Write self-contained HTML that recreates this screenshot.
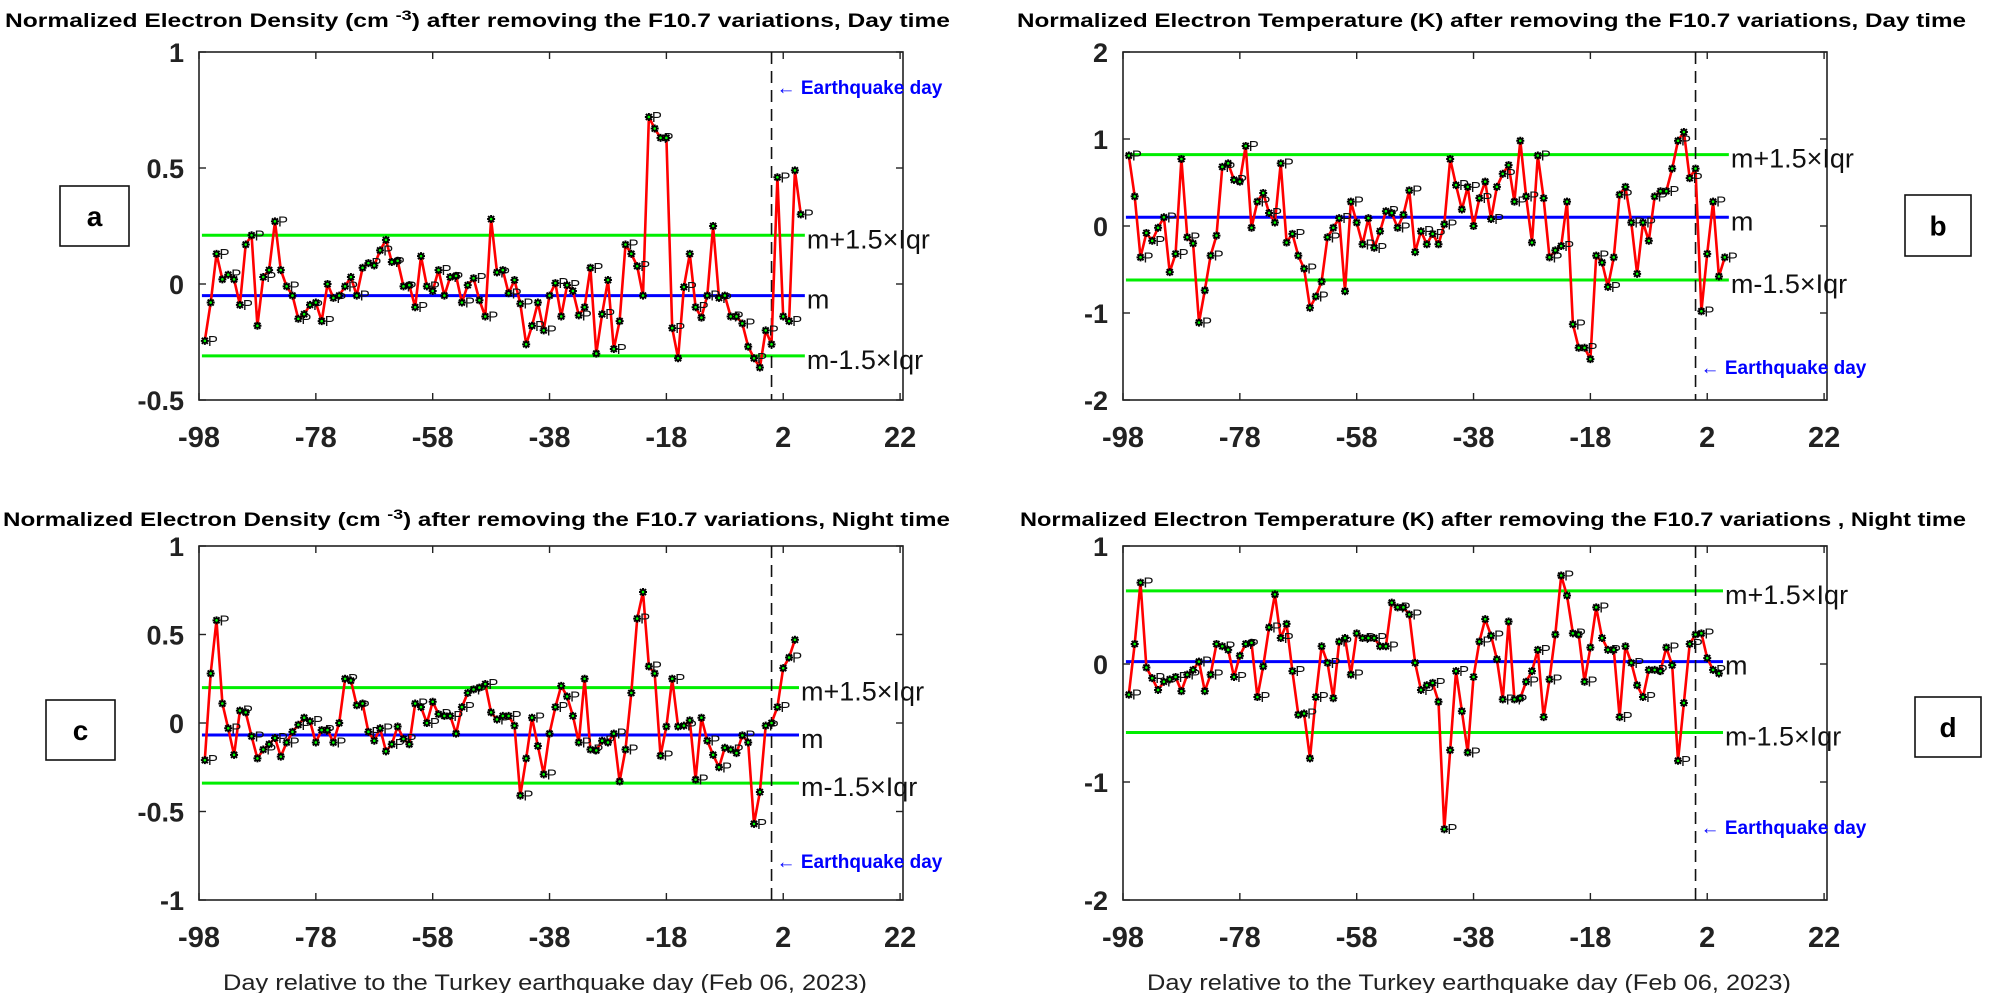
<!DOCTYPE html>
<html><head><meta charset="utf-8"><title>Normalized ionospheric parameters</title>
<style>html,body{margin:0;padding:0;background:#fff}svg{display:block}</style></head>
<body>
<svg id="fig" xmlns="http://www.w3.org/2000/svg" width="2001" height="993" viewBox="0 0 2001 993" font-family="'Liberation Sans', Arial, sans-serif"></svg>
<script>
// ---------- data ----------
const dayStart = -97;
const xTicks = [-98, -78, -58, -38, -18, 2, 22];
const yTicksA = [1, 0.5, 0, -0.5];
const yTicksB = [2, 1, 0, -1, -2];
const yTicksC = [1, 0.5, 0, -0.5, -1];
const yTicksD = [1, 0, -1, -2];
const quakeDay = 0;
const medianVals = [-0.05, 0.1, -0.068, 0.02];
const upperVals = [0.21, 0.82, 0.2, 0.62];
const lowerVals = [-0.31, -0.62, -0.34, -0.58];
const quakeLabelVals = [0.85, -1.62, -0.78, -1.38];
const valuesA = [-0.245,-0.08,0.13,0.02,0.04,0.02,-0.09,0.17,0.21,-0.18,0.03,0.06,0.27,0.06,-0.01,-0.05,-0.15,-0.13,-0.09,-0.08,-0.16,0,-0.06,-0.05,-0.01,0.03,-0.05,0.07,0.09,0.08,0.145,0.19,0.095,0.1,-0.01,-0.005,-0.1,0.12,-0.01,-0.03,0.06,-0.05,0.03,0.035,-0.08,-0.005,0.025,-0.07,-0.14,0.28,0.05,0.06,-0.04,
0.017,-0.085,-0.26,-0.18,-0.08,-0.2,-0.05,0.004,-0.14,-0.005,-0.03,-0.135,-0.1,0.07,-0.3,-0.13,0.017,-0.28,-0.16,0.17,0.13,0.077,-0.05,0.72,0.67,0.63,0.63,-0.19,-0.32,-0.013,0.13,-0.1,-0.145,-0.05,0.25,-0.06,-0.05,-0.14,-0.14,-0.17,-0.27,-0.32,-0.36,-0.2,-0.26,0.46,-0.14,-0.16,0.49,0.3];
const valuesB = [0.81,0.34,-0.36,-0.08,-0.17,-0.02,0.1,-0.53,-0.32,0.77,
-0.13,-0.2,-1.11,-0.74,-0.34,-0.11,0.68,0.72,0.53,0.51,
0.92,-0.02,0.28,0.38,0.15,0.04,0.72,-0.19,-0.09,-0.34,
-0.49,-0.94,-0.81,-0.64,-0.13,-0.02,0.09,-0.75,0.28,0.04,
-0.21,0.09,-0.25,-0.06,0.17,0.15,-0.02,0.13,0.41,-0.3,
-0.06,-0.21,-0.09,-0.21,0.02,0.77,0.47,0.19,0.45,0,
0.32,0.51,0.08,0.45,0.6,0.7,0.28,0.98,0.34,-0.19,
0.81,0.32,-0.36,-0.28,-0.23,0.28,-1.13,-1.4,-1.4,-1.53,
-0.34,-0.42,-0.7,-0.36,0.36,0.45,0.04,-0.55,0.04,-0.17,
0.34,0.4,0.4,0.66,0.98,1.08,0.55,0.66,-0.98,-0.32,
0.28,-0.58,-0.36];
const valuesC = [-0.21,0.28,0.58,0.11,-0.03,-0.18,0.07,0.06,-0.075,-0.2,-0.15,-0.12,-0.085,-0.19,-0.11,-0.05,-0.01,0.03,0.01,-0.11,-0.04,-0.04,-0.11,0,0.25,0.24,0.1,0.11,-0.05,-0.1,-0.03,-0.16,-0.12,-0.02,-0.09,-0.12,0.11,0.09,0,0.12,0.05,0.04,0.04,-0.06,0.09,0.17,0.19,0.2,0.22,0.06,0.02,0.04,
0.04,-0.015,-0.41,-0.2,0.03,-0.13,-0.29,-0.06,0.09,0.21,0.15,0.04,-0.11,0.25,-0.15,-0.155,-0.1,-0.11,-0.06,-0.33,-0.15,0.17,0.59,0.74,0.32,0.28,-0.185,-0.02,0.25,-0.02,-0.015,0.015,-0.32,0.03,-0.1,-0.18,-0.25,-0.14,-0.15,-0.17,-0.07,-0.11,-0.57,-0.39,-0.015,0,0.09,0.31,0.37,0.47];
const valuesD = [-0.26,0.17,0.69,-0.03,-0.12,-0.22,-0.15,-0.13,-0.11,-0.23,
-0.09,-0.05,0.02,-0.23,-0.09,0.17,0.15,0.12,-0.11,0.07,
0.17,0.18,-0.28,-0.02,0.31,0.59,0.22,0.34,-0.06,-0.43,
-0.42,-0.8,-0.28,0.15,0.01,-0.29,0.19,0.22,-0.09,0.26,
0.22,0.22,0.22,0.15,0.15,0.52,0.48,0.48,0.42,0.01,
-0.22,-0.18,-0.16,-0.32,-1.4,-0.73,-0.06,-0.4,-0.75,-0.11,
0.19,0.38,0.24,0.04,-0.3,0.36,-0.3,-0.29,-0.15,-0.06,
0.12,-0.45,-0.13,0.25,0.75,0.58,0.26,0.25,-0.15,0.14,
0.48,0.22,0.12,0.12,-0.45,0.15,0.01,-0.18,-0.28,-0.05,
-0.05,-0.06,0.14,-0.01,-0.82,-0.33,0.17,0.25,0.26,0.05,
-0.05,-0.08];

// ---------- layout ----------
const NS = 'http://www.w3.org/2000/svg';
const svg = document.getElementById('fig');
function mk(tag, attrs, parent, text) {
  const e = document.createElementNS(NS, tag);
  for (const k in attrs) e.setAttribute(k, attrs[k]);
  if (text !== undefined) e.textContent = text;
  (parent || svg).appendChild(e);
  return e;
}
const panels = [
  {id:'a', vals:valuesA, yt:yTicksA, ymin:-0.5, ymax:1, L:199, T:52, box:[60,186,69,60],
   title:['Normalized Electron Density (cm ','-3',') after removing the F10.7 variations, Day time'], tx:5, tw:945, ty:27, xlab:false},
  {id:'b', vals:valuesB, yt:yTicksB, ymin:-2, ymax:2, L:1123, T:52, box:[1905,195,66,61],
   title:['Normalized Electron Temperature (K) after removing the F10.7 variations, Day time'], tx:1017, tw:949, ty:27, xlab:false},
  {id:'c', vals:valuesC, yt:yTicksC, ymin:-1, ymax:1, L:199, T:546, box:[46,700,69,60],
   title:['Normalized Electron Density (cm ','-3',') after removing the F10.7 variations, Night time'], tx:3, tw:947, ty:526, xlab:true},
  {id:'d', vals:valuesD, yt:yTicksD, ymin:-2, ymax:1, L:1123, T:546, box:[1915,697,66,60],
   title:['Normalized Electron Temperature (K) after removing the F10.7 variations , Night time'], tx:1020, tw:946, ty:526, xlab:true}
];
const W = 704, H = 348, H2 = 354;
const xMin = -98, xMax = 22.5;

panels.forEach((p, pi) => {
  const h = pi < 2 ? H : H2;
  const g = mk('g', {});
  
  
  const X = d => p.L + (d - xMin) / (xMax - xMin) * W;
  const Y = v => p.T + (p.ymax - v) / (p.ymax - p.ymin) * h;
  const B = p.T + h;

  // title
  const t = mk('text', {x:p.tx, y:p.ty, 'font-size':19, 'font-weight':'bold', textLength:p.tw, lengthAdjust:'spacingAndGlyphs'}, g);
  
  
  mk('tspan', {}, t, p.title[0]);
  if (p.title.length > 1) {
    mk('tspan', {dy:-7, 'font-size':14}, t, p.title[1]);
    mk('tspan', {dy:7}, t, p.title[2]);
  }

  // axes box
  const box = mk('rect', {x:p.L, y:p.T, width:W, height:h, fill:'none', stroke:'#222', 'stroke-width':1.6}, g);
  
  

  // x ticks
  xTicks.forEach(d => {
    const x = X(d);
    mk('line', {x1:x, y1:B, x2:x, y2:B-7, stroke:'#222', 'stroke-width':1.4}, g);
    mk('line', {x1:x, y1:p.T, x2:x, y2:p.T+7, stroke:'#222', 'stroke-width':1.4}, g);
    const tl = mk('text', {x:x, y:B+47, 'font-size':29, 'font-weight':'bold', 'text-anchor':'middle', fill:'#222'}, g, String(d));
    
    
  });
  // y ticks
  p.yt.forEach(v => {
    const y = Y(v);
    mk('line', {x1:p.L, y1:y, x2:p.L+7, y2:y, stroke:'#222', 'stroke-width':1.4}, g);
    mk('line', {x1:p.L+W, y1:y, x2:p.L+W-7, y2:y, stroke:'#222', 'stroke-width':1.4}, g);
    const tl = mk('text', {x:p.L-15, y:y+10, 'font-size':27, 'font-weight':'bold', 'text-anchor':'end', fill:'#222'}, g, String(v));
    
    
  });

  // reference lines
  const lineStart = X(dayStart - 0.5), lineEnd = X(dayStart + p.vals.length - 0.3);
  const up = mk('line', {x1:lineStart, y1:Y(upperVals[pi]), x2:lineEnd, y2:Y(upperVals[pi]), stroke:'#00ee00', 'stroke-width':3}, g);
  
  
  const lo = mk('line', {x1:lineStart, y1:Y(lowerVals[pi]), x2:lineEnd, y2:Y(lowerVals[pi]), stroke:'#00ee00', 'stroke-width':3}, g);
  
  
  const md = mk('line', {x1:lineStart, y1:Y(medianVals[pi]), x2:lineEnd, y2:Y(medianVals[pi]), stroke:'#0000ff', 'stroke-width':3}, g);
  
  

  // quake dashed line
  const qx = X(quakeDay);
  const ql = mk('line', {x1:qx, y1:p.T, x2:qx, y2:B, stroke:'#111', 'stroke-width':1.6, 'stroke-dasharray':'12 7'}, g);
  
  
  const qt = mk('text', {x:qx+5, y:Y(quakeLabelVals[pi])+7, 'font-size':19, 'font-weight':'bold', fill:'#0000ff'}, g);
  
  
  mk('tspan', {'font-weight':'normal'}, qt, '\u2190 ');
  mk('tspan', {}, qt, 'Earthquake day');

  // series line
  let dstr = '';
  p.vals.forEach((v, i) => { dstr += (i ? 'L' : 'M') + X(dayStart + i).toFixed(1) + ',' + Y(v).toFixed(1); });
  const path = mk('path', {d:dstr, fill:'none', stroke:'#ff0000', 'stroke-width':2.6, 'stroke-linejoin':'round'}, g);
  
  
  // markers
  p.vals.forEach((v, i) => {
    const x = X(dayStart + i), y = Y(v);
    const m = mk('g', {}, g);
    
    
    mk('path', {d:`M${x-4},${y}L${x+4},${y}M${x},${y-4}L${x},${y+4}M${x-3},${y-3}L${x+3},${y+3}M${x-3},${y+3}L${x+3},${y-3}`, stroke:'#000', 'stroke-width':2}, m);
    mk('circle', {cx:x, cy:y, r:1.3, fill:'#00ff00'}, m);
    if (i % 2 === 0) {
      mk('text', {x:x+3, y:y+5, 'font-size':15, fill:'#111'}, m, 'P');
    }
  });

  // bound labels
  const lx = lineEnd + 2;
  [['m+1.5\u00d7Iqr', upperVals[pi], 'upper-bound-label'], ['m', medianVals[pi], 'median-label'], ['m-1.5\u00d7Iqr', lowerVals[pi], 'lower-bound-label']].forEach(r => {
    const tl = mk('text', {x:lx, y:Y(r[1])+13, 'font-size':27, fill:'#111'}, g, r[0]);
    
    
  });

  // panel letter box
  const bx = mk('g', {}, g);
  
  
  mk('rect', {x:p.box[0], y:p.box[1], width:p.box[2], height:p.box[3], fill:'#fff', stroke:'#111', 'stroke-width':1.6}, bx);
  mk('text', {x:p.box[0]+p.box[2]/2, y:p.box[1]+p.box[3]/2+10, 'font-size':28, 'font-weight':'bold', 'text-anchor':'middle'}, bx, p.id);

  if (p.xlab) {
    const xl = mk('text', {x:p.L + W/2 - 6, y:990, 'font-size':22, fill:'#222', 'text-anchor':'middle', textLength:644, lengthAdjust:'spacingAndGlyphs'}, g, 'Day relative to the Turkey earthquake day (Feb 06, 2023)');
    
    
  }
});
</script>
</body></html>
